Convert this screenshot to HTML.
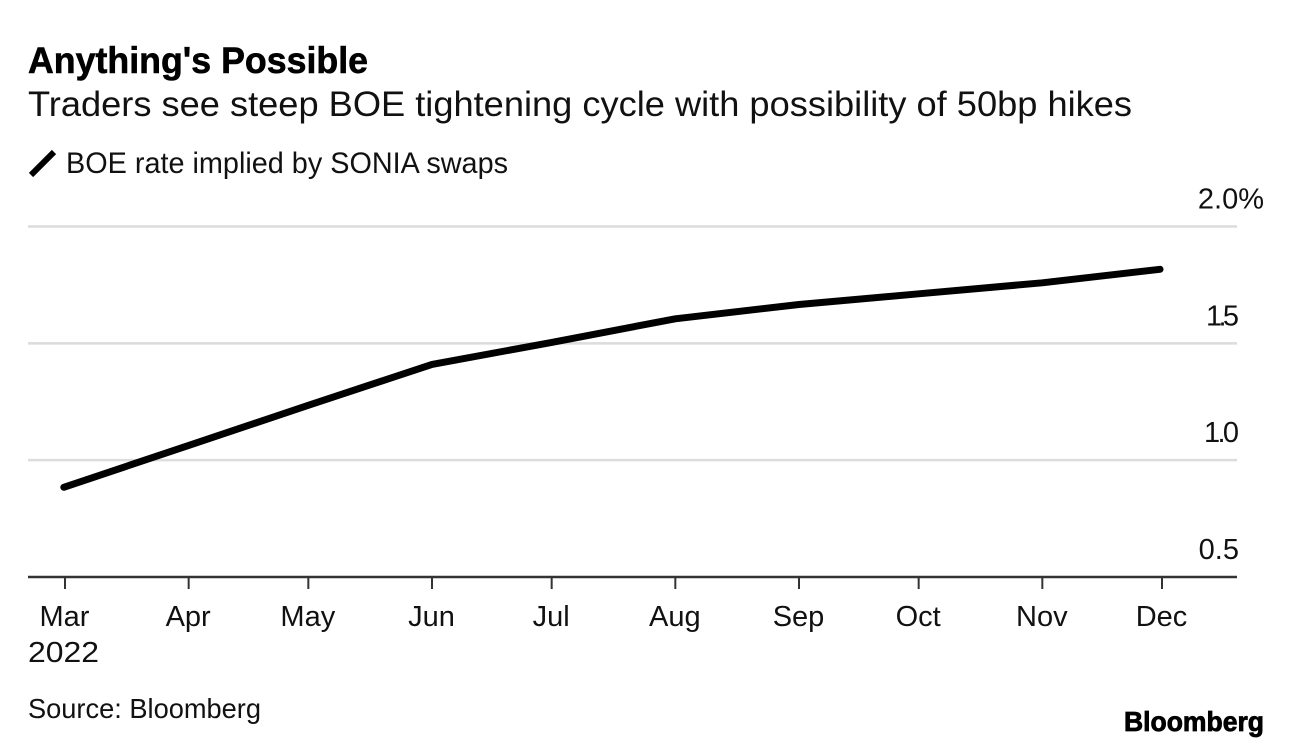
<!DOCTYPE html>
<html lang="en">
<head>
<meta charset="utf-8">
<title>Anything's Possible</title>
<style>
html,body{margin:0;padding:0;background:#fff;width:1292px;height:748px;overflow:hidden}
svg{display:block}
text{font-family:"Liberation Sans",sans-serif;fill:#111}
.tick{font-size:29px}
</style>
</head>
<body>
<svg id="chart" xmlns="http://www.w3.org/2000/svg" width="1292" height="748" viewBox="0 0 1292 748">
  <text x="28" y="73" font-size="37" font-weight="700" textLength="340" lengthAdjust="spacingAndGlyphs" stroke="#000" stroke-width="0.6" style="fill:#000">Anything's Possible</text>
  <text x="28" y="116" font-size="35" textLength="1104" lengthAdjust="spacingAndGlyphs">Traders see steep BOE tightening cycle with possibility of 50bp hikes</text>
  <line x1="31" y1="175" x2="54" y2="152" stroke="#000" stroke-width="6"/>
  <text x="66" y="173" font-size="29.5" textLength="442" lengthAdjust="spacingAndGlyphs">BOE rate implied by SONIA swaps</text>
  <g id="grid"></g>
  <g id="y-labels"></g>
  <line x1="28" y1="577" x2="1237" y2="577" stroke="#333" stroke-width="2.5"/>
  <g id="x-ticks"></g>
  <g id="x-labels"></g>
  <path id="series" fill="none" stroke="#000" stroke-width="7" stroke-linecap="round" stroke-linejoin="round"/>
  <text class="tick" x="28" y="662" textLength="71" lengthAdjust="spacingAndGlyphs">2022</text>
  <text x="28" y="718" font-size="28" textLength="233" lengthAdjust="spacingAndGlyphs">Source: Bloomberg</text>
  <text x="1124" y="731" font-size="27.5" font-weight="700" textLength="140" lengthAdjust="spacingAndGlyphs" stroke="#000" stroke-width="0.8" style="fill:#000">Bloomberg</text>
</svg>
<script>
var months = ['Mar','Apr','May','Jun','Jul','Aug','Sep','Oct','Nov','Dec'];
var monthDays = [0,31,61,92,122,153,184,214,245,275];
var seriesDays = [-0.3,31,61,92,122,153,184,214,245,274.5];
var rates = [0.884,1.063,1.235,1.41,1.504,1.605,1.666,1.712,1.759,1.817];
var yTicks = [2.0,1.5,1.0,0.5];
var yTickLabels = ['2.0%','1.5','1.0','0.5'];

function xScale(d){ return 65 + d * (1162 - 65) / 275; }
function yScale(v){ return 577 - (v - 0.5) * (577 - 226.5) / 1.5; }

var NS = 'http://www.w3.org/2000/svg';
function make(tag, attrs, parent){
  var el = document.createElementNS(NS, tag);
  for (var k in attrs) el.setAttribute(k, attrs[k]);
  parent.appendChild(el);
  return el;
}
var grid = document.getElementById('grid');
var yLabels = document.getElementById('y-labels');
var xTicks = document.getElementById('x-ticks');
var xLabels = document.getElementById('x-labels');

yTicks.forEach(function(v, i){
  if (v > 0.5) {
    var g = make('line', {x1:28, x2:1237, y1:yScale(v), y2:yScale(v), stroke:'#dcdcdc', 'stroke-width':2.5}, grid);
    
    
  }
  var t = make('text', {'class':'tick', x: i === 0 ? 1264 : 1239, y: yScale(v) - 18, 'text-anchor':'end'}, yLabels);
  t.textContent = yTickLabels[i];
  if (yTickLabels[i].charAt(0) === '1') {
    t.setAttribute('textLength', yTickLabels[i] === '1.5' ? 33 : 35);
    t.setAttribute('lengthAdjust', 'spacing');
  }
  
  
});

months.forEach(function(m, i){
  var x = xScale(monthDays[i]);
  var tk = make('line', {x1:x, x2:x, y1:577, y2:589, stroke:'#333', 'stroke-width':2}, xTicks);
  
  
  var t = make('text', {'class':'tick', x:x - 0.5, y:626, 'text-anchor':'middle'}, xLabels);
  t.textContent = m;
  
  
});

document.getElementById('series').setAttribute('d', rates.map(function(v, i){
  return (i ? 'L' : 'M') + xScale(seriesDays[i]).toFixed(1) + ' ' + yScale(v).toFixed(1);
}).join(' '));
</script>
</body>
</html>
